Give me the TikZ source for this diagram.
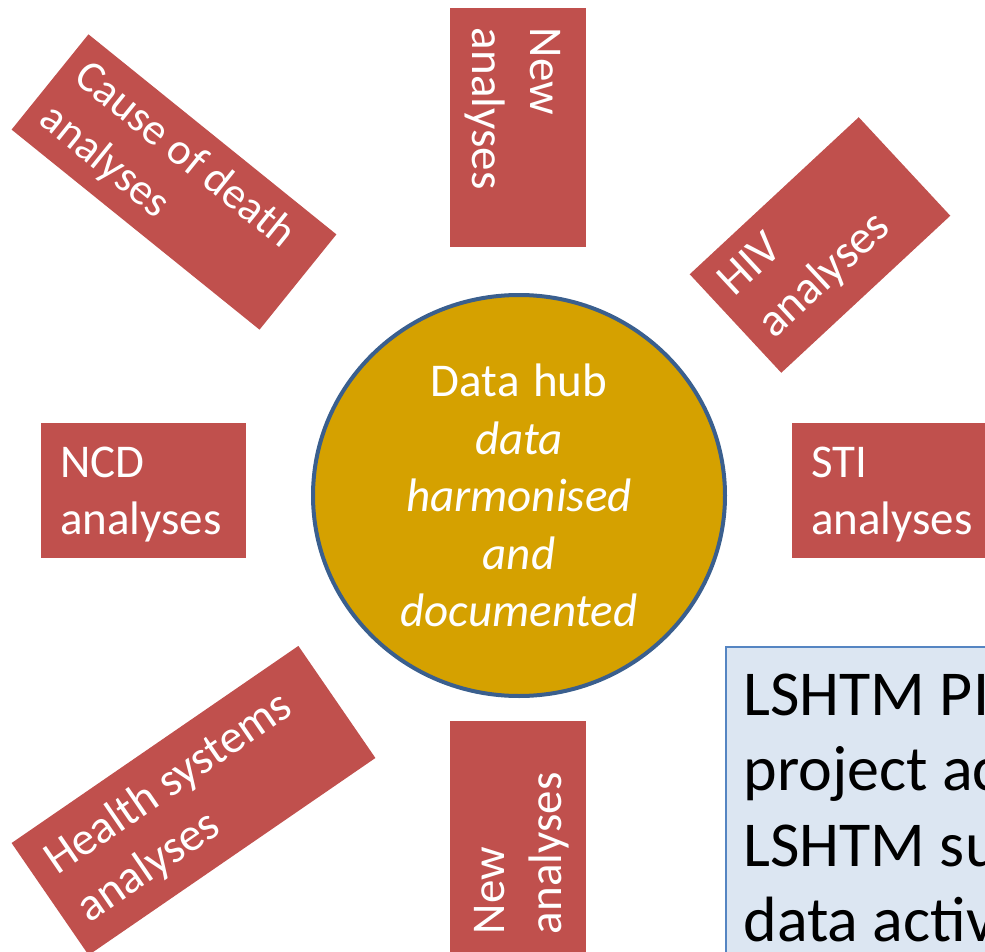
\documentclass[tikz,border=0pt]{standalone}
\usepackage{fontspec}
\setmainfont{Carlito}
\usetikzlibrary{shapes.geometric}
\definecolor{boxred}{HTML}{C0504D}
\definecolor{hubfill}{RGB}{213,161,0}
\definecolor{hubline}{HTML}{3A5F8E}
\definecolor{notefill}{HTML}{DCE6F2}
\definecolor{noteline}{HTML}{5585C2}
\newcommand\natsp{\spaceskip=0pt\relax\xspaceskip=0pt\relax}
\tikzset{
  redbox/.style={fill=boxred, text=white, inner xsep=19pt, inner ysep=0pt, outer sep=0pt,
    align=left, font=\fontsize{47}{57.5}\selectfont},
  hubnode/.style={ellipse, draw=hubline, line width=4pt, fill=hubfill, text=white,
    inner sep=0pt, outer sep=0pt, align=center, font=\fontsize{47}{57.5}\selectfont},
  notebox/.style={draw=noteline, line width=2pt, fill=notefill, text=black,
    inner xsep=18pt, inner ysep=0pt, outer sep=0pt, align=left,
    font=\fontsize{64}{75.5}\selectfont}
}
\begin{document}
\begin{tikzpicture}[x=1pt,y=-1pt]
\clip (0,0) rectangle (985,952);
% rotated and straight red boxes
\node[redbox, rotate=-38.9, minimum width=318.6pt, minimum height=122.4pt,
  inner xsep=16pt, text width=286.6pt, text height=46pt, text depth=76.4pt,
  font=\fontsize{44.5}{55}\selectfont]
  (cod) at (174,182) {\natsp\mbox{Cause of death}\\analyses};
\node[redbox, rotate=-90, minimum width=239pt, minimum height=136pt,
  inner xsep=20pt, text width=199pt, text height=56pt, text depth=80pt]
  (newtop) at (518,127.5) {\natsp New\\analyses};
\node[redbox, rotate=42.9, minimum width=230.7pt, minimum height=134.5pt,
  inner xsep=17pt, text width=196.7pt, text height=48pt, text depth=86.5pt]
  (hiv) at (820,245) {\natsp HIV\\analyses};
\node[redbox, minimum width=205pt, minimum height=135pt,
  text width=167pt, text height=54pt, text depth=81pt]
  (ncd) at (143.5,490.5) {\natsp NCD\\analyses};
\node[redbox, minimum width=205pt, minimum height=135pt,
  text width=167pt, text height=54pt, text depth=81pt]
  (sti) at (894.5,490.5) {\natsp STI\\analyses};
\node[redbox, rotate=34.5, minimum width=348pt, minimum height=136pt,
  text width=310pt, text height=53pt, text depth=83pt]
  (hs) at (193.5,800.5) {\natsp\mbox{Health systems}\\analyses};
\node[redbox, rotate=90, minimum width=232pt, minimum height=136pt,
  text width=194pt, text height=54pt, text depth=82pt]
  (newbot) at (518,837) {\natsp New\\analyses};
% central hub
\node[hubnode, minimum width=412pt, minimum height=401pt,
  text width=280pt, text height=30pt, text depth=227.6pt]
  (hub) at (519,495.5) {\natsp Data hub\\{\itshape data}\\{\itshape harmonised}\\{\itshape and}\\{\itshape documented}};
% note box (cut by the picture edge)
\node[notebox, anchor=north west, minimum width=400pt, minimum height=400pt,
  text width=364pt, text height=68.5pt, text depth=331.5pt]
  (note) at (725.5,646.5) {\natsp LSHTM PI\\project ac\\LSHTM su\\data activ};
\end{tikzpicture}
\end{document}
